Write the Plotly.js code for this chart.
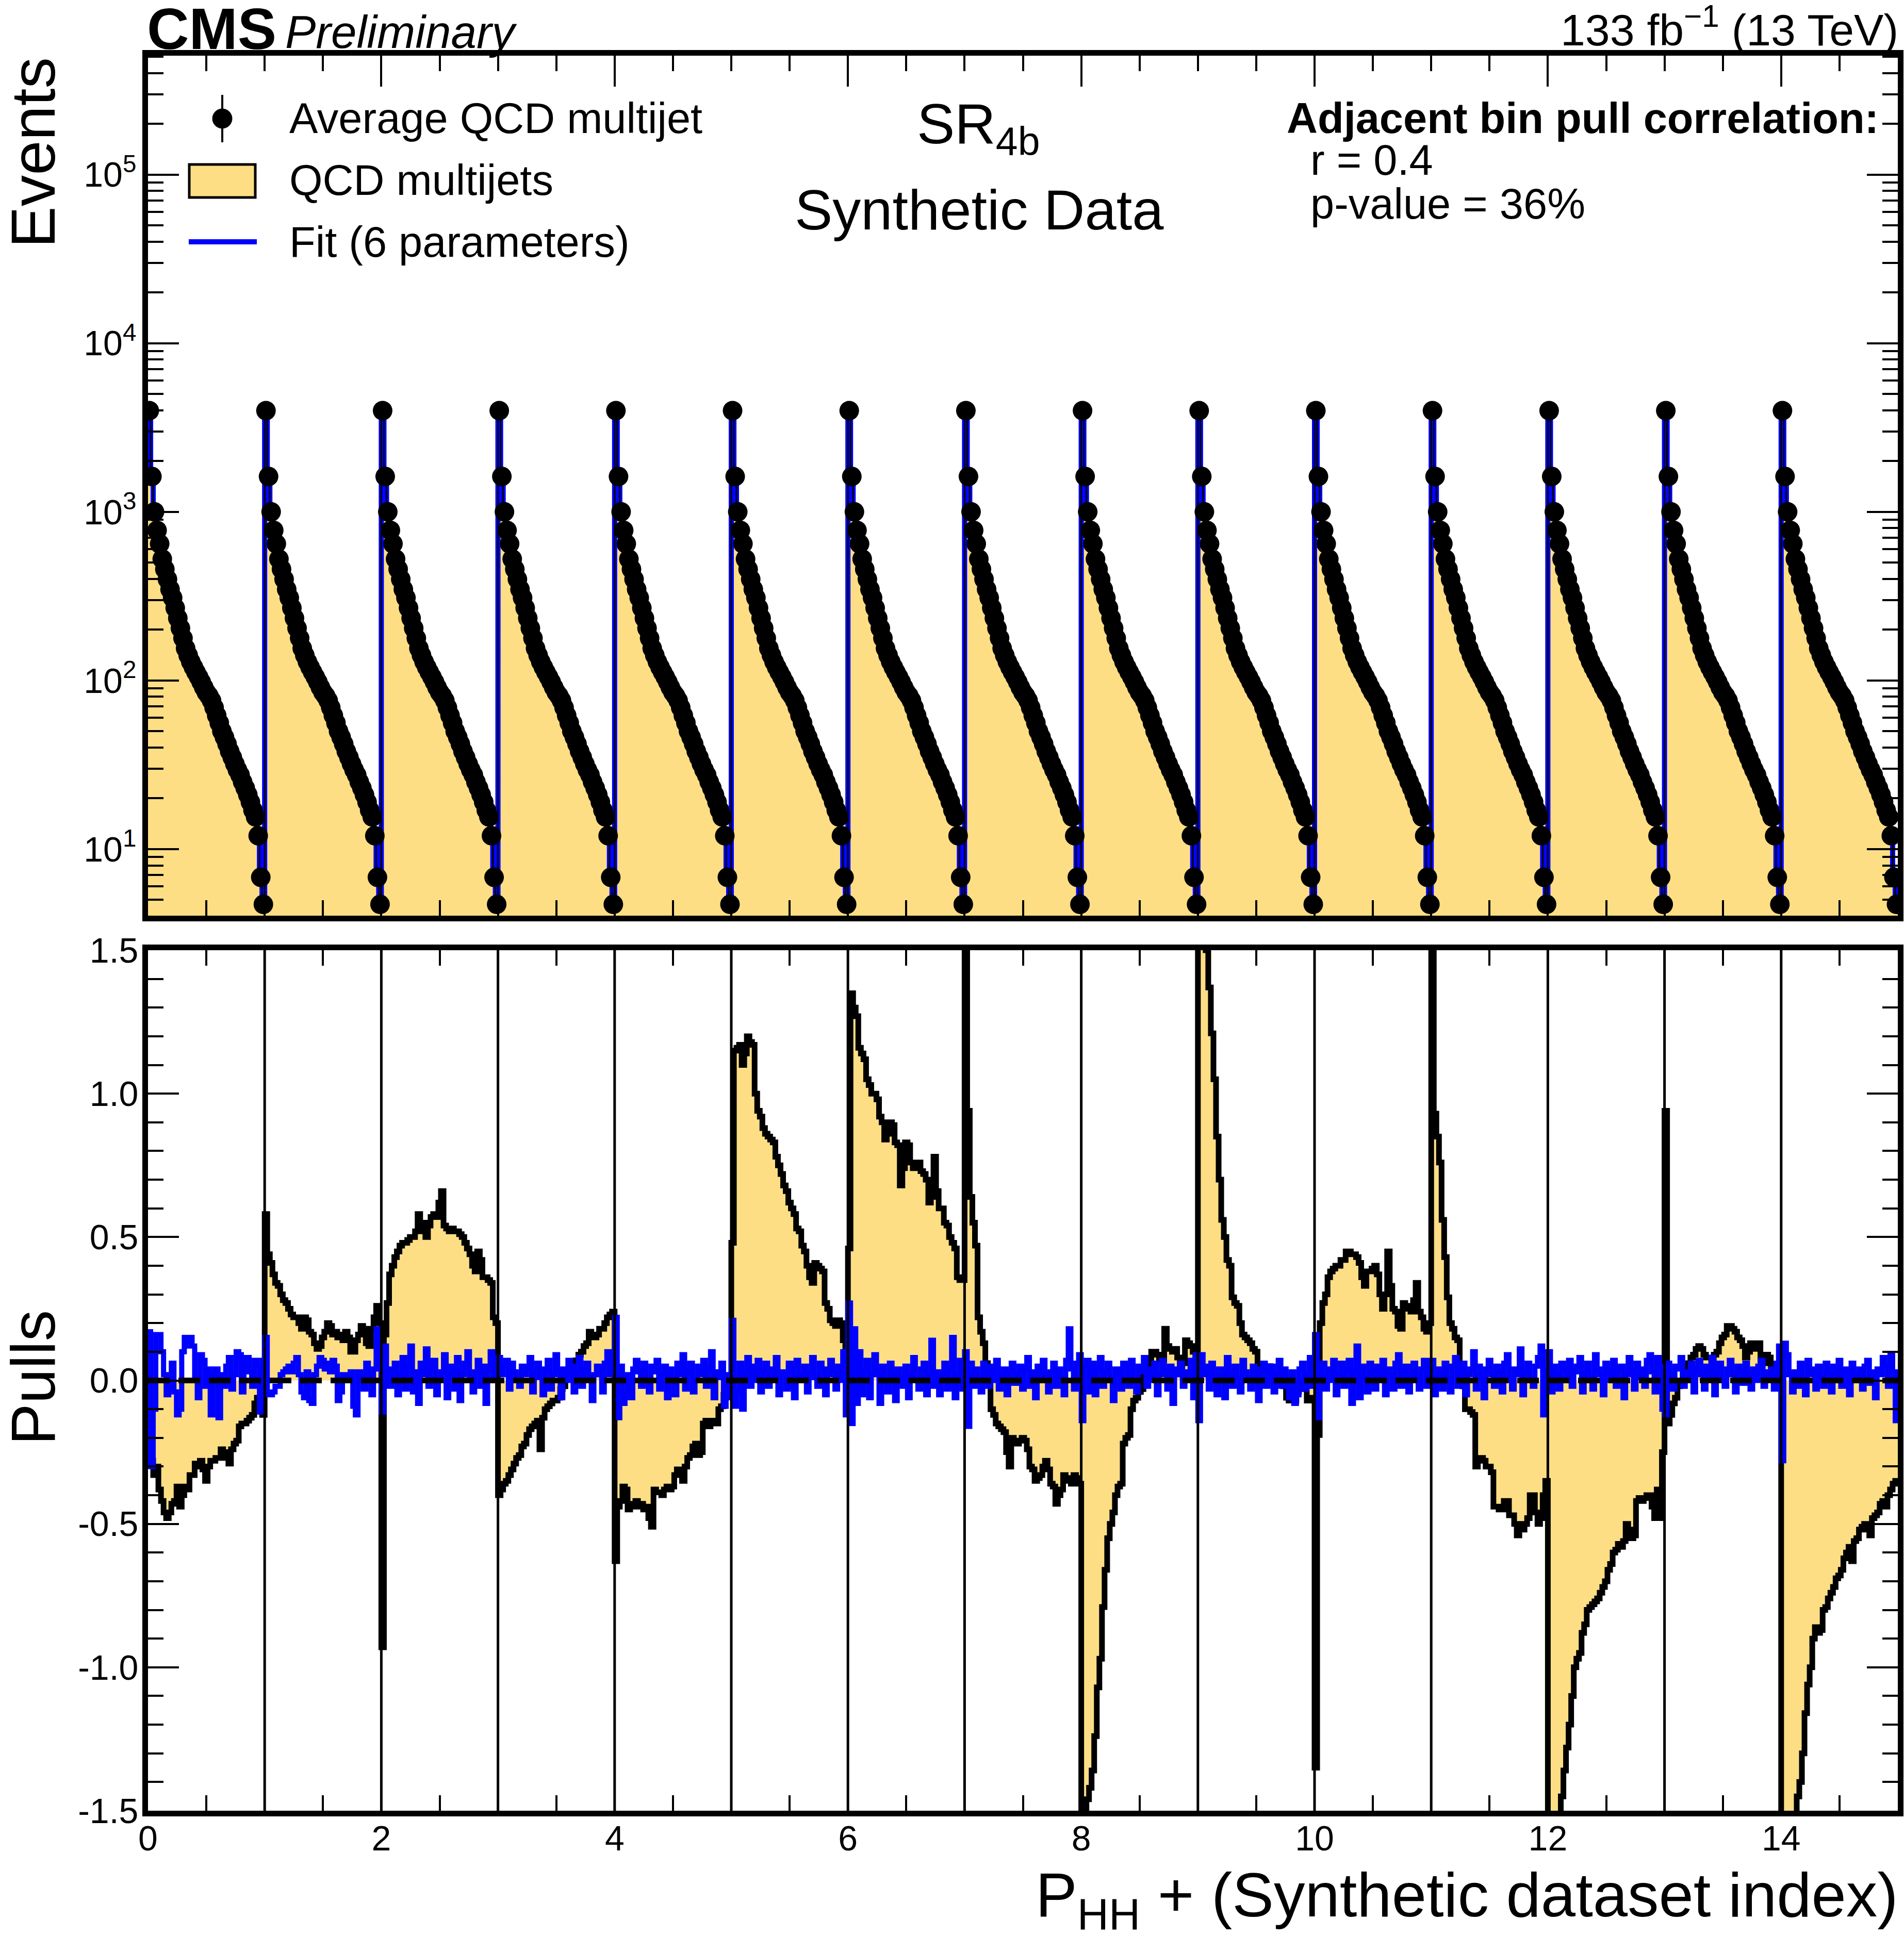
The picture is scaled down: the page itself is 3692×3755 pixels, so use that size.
<!DOCTYPE html>
<html>
<head>
<meta charset="utf-8">
<script src="https://cdn.plot.ly/plotly-3.0.1.min.js"></script>
<style>html,body{margin:0;padding:0;background:#fff;}</style>
</head>
<body>
<div id="chart" style="width:3692px;height:3755px;"></div>
<script>
// ---------------- DATA ----------------
const nSets = 15;          // synthetic datasets
const nBins = 45;          // P_HH bins per dataset
// Average QCD multijet prediction per P_HH bin (same in every dataset)
const avgQCD = [3980,1620,1000,776,646,525,457,398,347,309,
                269,234,204,178,155,141,129,120,112,105,
                98,91,85,81,76,69,62,56,50,46,
                42,38,35,32,29.5,27.5,25,23,21,19,
                17,15.5,12,6.8,4.7];
// Pulls of the QCD multijet histogram, one array per synthetic dataset
const qcdPull01 = [-0.22,-0.28,-0.33,-0.30,-0.38,-0.42,-0.46,-0.48,-0.46,-0.43,-0.42,-0.37,-0.44,-0.40,-0.37,-0.38,-0.33,-0.33,-0.29,-0.30,-0.28,-0.31,-0.35,-0.30,-0.28,-0.28,-0.27,-0.27,-0.24,-0.25,-0.27,-0.29,-0.24,-0.22,-0.21,-0.16,-0.15,-0.15,-0.14,-0.13,-0.12,-0.08,-0.06,-0.10,-0.12];
const qcdPull02 = [0.58,0.44,0.41,0.37,0.34,0.33,0.30,0.28,0.27,0.25,0.23,0.22,0.22,0.20,0.18,0.22,0.21,0.17,0.16,0.13,0.11,0.12,0.15,0.17,0.20,0.19,0.16,0.17,0.15,0.16,0.14,0.17,0.15,0.10,0.10,0.14,0.16,0.19,0.18,0.13,0.12,0.18,0.22,0.26,0.20];
const qcdPull03 = [-0.93,0.16,0.27,0.37,0.40,0.43,0.45,0.47,0.48,0.48,0.49,0.50,0.50,0.52,0.58,0.52,0.55,0.50,0.54,0.57,0.58,0.57,0.62,0.66,0.54,0.53,0.52,0.53,0.52,0.52,0.51,0.50,0.48,0.46,0.44,0.40,0.38,0.45,0.42,0.36,0.36,0.35,0.34,0.22,0.20];
const qcdPull04 = [-0.40,-0.38,-0.36,-0.35,-0.33,-0.31,-0.29,-0.27,-0.26,-0.23,-0.22,-0.19,-0.17,-0.16,-0.15,-0.14,-0.24,-0.13,-0.10,-0.09,-0.08,-0.07,-0.07,-0.06,-0.03,-0.02,0.01,0.02,0.04,0.05,0.07,0.09,0.10,0.12,0.13,0.17,0.16,0.15,0.16,0.18,0.18,0.20,0.22,0.23,0.24];
const qcdPull05 = [-0.63,-0.44,-0.42,-0.37,-0.38,-0.45,-0.44,-0.43,-0.42,-0.44,-0.43,-0.45,-0.44,-0.48,-0.51,-0.38,-0.39,-0.39,-0.40,-0.38,-0.37,-0.38,-0.37,-0.33,-0.31,-0.32,-0.35,-0.30,-0.27,-0.26,-0.23,-0.22,-0.26,-0.25,-0.15,-0.14,-0.16,-0.15,-0.14,-0.15,-0.10,-0.09,-0.05,-0.04,-0.03];
const qcdPull06 = [0.48,1.15,1.16,1.17,1.10,1.14,1.20,1.18,1.17,1.00,0.94,0.92,0.88,0.86,0.85,0.84,0.83,0.78,0.75,0.72,0.68,0.66,0.62,0.60,0.58,0.53,0.52,0.47,0.45,0.40,0.36,0.34,0.41,0.40,0.39,0.38,0.27,0.25,0.21,0.20,0.19,0.21,0.20,0.14,0.10];
const qcdPull07 = [0.46,1.35,1.30,1.27,1.16,1.14,1.12,1.05,1.03,1.00,1.00,0.98,0.92,0.90,0.84,0.86,0.90,0.89,0.83,0.82,0.68,0.74,0.83,0.82,0.76,0.74,0.75,0.76,0.73,0.72,0.70,0.62,0.64,0.78,0.66,0.60,0.60,0.55,0.54,0.50,0.48,0.46,0.36,0.35,0.35];
const qcdPull08 = [2.0,0.94,0.64,0.55,0.47,0.22,0.17,0.13,0.06,0.00,-0.10,-0.12,-0.15,-0.16,-0.17,-0.18,-0.25,-0.30,-0.20,-0.21,-0.22,-0.21,-0.20,-0.21,-0.24,-0.30,-0.31,-0.35,-0.34,-0.33,-0.30,-0.28,-0.31,-0.36,-0.37,-0.43,-0.40,-0.38,-0.33,-0.34,-0.35,-0.36,-0.33,-0.34,-0.36];
const qcdPull09 = [-2.0,-1.7,-1.46,-1.42,-1.36,-1.24,-1.07,-0.97,-0.79,-0.66,-0.55,-0.50,-0.46,-0.40,-0.37,-0.36,-0.22,-0.20,-0.19,-0.10,-0.07,-0.06,-0.04,-0.03,0.04,0.05,0.06,0.10,0.10,0.09,0.07,0.07,0.18,0.12,0.11,0.10,0.11,0.08,0.05,0.06,0.14,0.13,0.12,0.10,0.06];
const qcdPull10 = [2.0,1.7,1.6,1.5,1.37,1.21,1.05,0.85,0.70,0.56,0.50,0.42,0.40,0.29,0.27,0.26,0.20,0.16,0.15,0.14,0.13,0.11,0.10,0.05,0.04,0.03,0.05,0.05,0.02,0.01,0.00,0.01,0.00,-0.02,-0.06,-0.07,-0.07,-0.07,-0.04,-0.01,-0.02,-0.03,-0.07,-0.07,-0.06];
const qcdPull11 = [-1.35,-0.19,0.20,0.27,0.30,0.36,0.38,0.39,0.40,0.40,0.42,0.42,0.45,0.45,0.44,0.44,0.43,0.41,0.36,0.33,0.38,0.38,0.39,0.40,0.37,0.30,0.25,0.30,0.45,0.33,0.25,0.24,0.19,0.18,0.27,0.26,0.25,0.24,0.28,0.34,0.24,0.22,0.18,0.17,0.20];
const qcdPull12 = [2.0,0.93,0.85,0.76,0.56,0.43,0.29,0.20,0.18,0.15,0.14,0.02,-0.02,-0.10,-0.10,-0.11,-0.12,-0.30,-0.28,-0.27,-0.28,-0.30,-0.30,-0.32,-0.44,-0.44,-0.45,-0.45,-0.42,-0.42,-0.47,-0.47,-0.50,-0.54,-0.50,-0.52,-0.50,-0.48,-0.40,-0.40,-0.46,-0.50,-0.48,-0.40,-0.35];
const qcdPull13 = [-2.0,-1.9,-1.8,-1.6,-1.52,-1.45,-1.36,-1.28,-1.20,-1.10,-1.00,-0.97,-0.95,-0.88,-0.85,-0.80,-0.79,-0.78,-0.77,-0.76,-0.74,-0.72,-0.70,-0.66,-0.64,-0.60,-0.59,-0.57,-0.58,-0.56,-0.50,-0.52,-0.55,-0.54,-0.42,-0.41,-0.42,-0.41,-0.40,-0.40,-0.44,-0.48,-0.38,-0.48,-0.25];
const qcdPull14 = [0.94,-0.15,-0.12,-0.08,-0.06,-0.02,0.00,0.02,0.05,0.06,0.08,0.09,0.11,0.12,0.11,0.09,0.08,0.08,0.07,0.09,0.10,0.13,0.15,0.16,0.19,0.19,0.18,0.17,0.15,0.14,0.12,0.08,0.10,0.13,0.12,0.11,0.13,0.07,0.06,0.09,0.08,0.05,0.04,0.02,0.01];
const qcdPull15 = [-2.0,-1.9,-1.8,-1.7,-1.6,-1.52,-1.45,-1.40,-1.30,-1.16,-1.06,-1.00,-0.90,-0.86,-0.88,-0.87,-0.80,-0.79,-0.76,-0.74,-0.72,-0.69,-0.68,-0.66,-0.62,-0.60,-0.58,-0.63,-0.56,-0.55,-0.52,-0.51,-0.50,-0.52,-0.54,-0.48,-0.47,-0.46,-0.43,-0.42,-0.44,-0.40,-0.38,-0.36,-0.35];
// Pulls of the 6-parameter fit, one array per synthetic dataset
const fitPull01 = [0.17,-0.30,-0.10,0.16,0.16,0.10,0.02,-0.05,-0.03,0.06,-0.04,-0.12,-0.10,0.10,0.15,0.12,0.15,0.12,0.00,-0.06,0.09,0.07,-0.02,0.04,-0.12,0.02,0.04,-0.13,0.02,-0.02,0.05,0.08,-0.03,0.02,0.10,0.09,-0.04,0.06,0.08,0.03,-0.02,0.07,0.05,-0.11,0.07];
const fitPull02 = [0.15,-0.05,-0.05,-0.04,-0.02,-0.02,0.02,0.03,0.04,0.05,0.03,0.06,0.08,0.02,-0.04,-0.06,0.03,-0.07,-0.08,0.02,0.05,0.08,0.07,0.04,0.06,0.03,0.07,0.05,-0.07,-0.04,0.02,0.00,0.02,0.03,-0.09,-0.12,0.03,0.01,-0.03,0.06,0.02,-0.05,0.04,0.18,0.10];
const fitPull03 = [-0.11,0.12,0.04,-0.02,0.03,0.06,-0.05,0.02,0.08,-0.03,0.05,0.12,-0.04,0.03,-0.08,0.06,0.02,0.11,-0.02,0.04,0.07,-0.05,0.00,0.03,0.09,-0.06,0.02,0.05,-0.03,0.08,-0.07,0.02,0.06,0.10,0.01,-0.04,0.03,0.07,-0.02,0.05,-0.08,0.04,0.10,0.00,0.06];
const fitPull04 = [0.08,0.02,0.05,0.07,-0.03,0.06,0.03,0.00,-0.02,0.05,0.02,0.04,0.08,-0.04,0.03,0.06,0.01,-0.05,0.04,0.07,-0.03,0.02,0.09,0.03,-0.06,0.04,0.00,0.07,0.05,-0.04,0.03,0.08,-0.02,0.04,0.06,0.01,-0.07,0.02,0.05,0.03,-0.04,0.06,0.10,0.02,0.05];
const fitPull05 = [0.22,-0.13,0.05,-0.08,-0.05,0.02,-0.06,0.04,0.07,0.03,-0.02,0.06,0.00,-0.04,0.05,0.03,0.07,-0.03,0.02,0.05,-0.06,0.04,0.01,-0.05,0.06,0.02,0.09,-0.03,0.03,0.06,-0.04,0.00,0.05,0.02,0.07,-0.02,0.04,0.10,-0.06,0.03,0.01,0.06,-0.09,0.02,-0.06];
const fitPull06 = [0.21,-0.09,-0.04,0.06,-0.10,0.03,0.08,-0.02,0.05,0.00,0.07,-0.04,0.03,0.06,-0.02,0.04,0.01,0.08,-0.05,0.03,0.02,-0.03,0.06,0.04,-0.06,0.07,0.02,0.00,0.05,-0.04,0.03,0.08,0.01,-0.02,0.06,0.04,-0.05,0.02,0.07,0.03,-0.03,0.05,0.00,0.10,-0.12];
const fitPull07 = [0.27,-0.15,0.18,-0.08,0.10,-0.05,0.04,0.07,-0.06,0.02,0.09,0.03,-0.08,0.05,0.00,-0.04,0.06,0.02,-0.07,0.04,0.01,-0.02,0.05,-0.06,0.02,0.08,0.00,-0.03,0.04,0.06,-0.05,0.02,0.14,-0.02,0.03,-0.05,0.02,0.06,-0.03,0.04,0.15,-0.06,0.02,0.07,-0.03];
const fitPull08 = [0.10,-0.16,0.06,-0.02,0.04,0.01,-0.04,0.06,0.03,-0.02,0.05,0.00,0.07,-0.03,0.02,0.04,-0.05,0.03,0.06,-0.01,0.02,0.05,-0.03,0.04,0.08,-0.02,0.03,-0.06,0.05,0.01,0.07,0.02,-0.04,0.03,0.06,-0.02,0.04,0.01,-0.05,0.07,0.18,0.04,-0.03,0.06,0.09];
const fitPull09 = [-0.14,0.05,0.07,-0.04,0.06,-0.05,0.04,0.08,-0.02,0.03,0.06,0.00,-0.07,0.04,0.02,-0.03,0.06,0.05,-0.02,0.07,0.01,-0.04,0.05,0.03,0.08,-0.02,0.04,0.00,0.06,-0.05,0.02,0.07,0.03,-0.03,0.05,-0.08,0.04,0.02,0.06,-0.02,0.03,0.00,0.07,-0.06,0.09];
const fitPull10 = [-0.14,0.09,0.02,0.05,-0.03,0.06,0.00,-0.05,0.04,0.03,-0.06,0.08,0.02,-0.02,0.05,0.01,-0.04,0.07,0.03,0.00,-0.03,0.05,0.02,-0.07,0.04,0.06,-0.02,0.03,0.05,-0.04,0.02,0.07,-0.02,0.04,0.00,-0.06,0.03,-0.08,-0.05,0.04,0.06,-0.03,0.02,0.08,-0.02];
const fitPull11 = [0.16,-0.13,-0.02,0.06,-0.03,0.04,0.00,0.07,-0.05,0.02,0.06,-0.02,0.04,0.07,-0.08,0.03,0.12,-0.06,0.05,0.01,-0.04,0.06,0.03,-0.03,0.05,0.00,0.07,-0.05,0.04,0.02,-0.03,0.06,0.09,-0.02,0.03,0.05,-0.04,0.02,0.06,0.01,-0.03,0.04,0.07,-0.02,0.05];
const fitPull12 = [0.07,-0.05,0.04,0.02,-0.03,0.06,0.00,-0.04,0.05,0.08,-0.02,0.03,0.06,-0.05,0.02,0.04,0.10,-0.03,0.05,0.01,-0.06,0.04,0.07,0.02,-0.02,0.05,0.03,-0.04,0.06,0.09,0.00,-0.03,0.04,0.02,0.11,-0.05,0.03,0.06,0.00,-0.02,0.05,0.08,0.12,-0.12,0.04];
const fitPull13 = [0.10,-0.04,0.05,0.02,-0.03,0.06,0.04,0.00,0.07,-0.02,0.03,0.05,0.08,-0.04,0.02,0.06,0.01,-0.03,0.09,0.04,0.02,-0.05,0.06,0.03,0.00,0.07,-0.02,0.04,0.05,-0.06,0.02,0.08,0.03,-0.03,0.06,0.01,0.04,-0.02,0.07,0.09,0.03,-0.04,0.08,0.05,-0.10];
const fitPull14 = [-0.12,0.06,0.02,-0.03,0.05,0.04,0.08,-0.02,0.03,0.00,0.06,-0.04,0.04,0.07,0.02,-0.03,0.05,0.01,0.08,-0.05,0.03,0.06,0.00,-0.02,0.04,0.07,0.02,-0.04,0.05,0.03,-0.01,0.06,0.02,-0.03,0.04,0.00,0.05,0.07,-0.02,0.03,0.01,0.04,-0.03,0.06,0.12];
const fitPull15 = [-0.28,0.13,0.09,0.02,-0.04,0.03,-0.02,0.06,0.00,-0.05,0.07,0.02,0.04,-0.03,0.05,0.01,-0.02,0.06,0.03,-0.04,0.05,0.00,0.07,-0.02,0.04,0.03,-0.05,0.06,0.02,0.00,0.04,-0.03,0.05,0.07,-0.01,0.03,-0.06,0.04,0.02,0.08,0.05,-0.02,0.09,0.03,-0.14];

const qcdPulls = [qcdPull01,qcdPull02,qcdPull03,qcdPull04,qcdPull05,qcdPull06,qcdPull07,qcdPull08,qcdPull09,qcdPull10,qcdPull11,qcdPull12,qcdPull13,qcdPull14,qcdPull15];
const fitPulls = [fitPull01,fitPull02,fitPull03,fitPull04,fitPull05,fitPull06,fitPull07,fitPull08,fitPull09,fitPull10,fitPull11,fitPull12,fitPull13,fitPull14,fitPull15];
const topTickVals = [10,100,1000,10000,100000];
const topTickText = ['10<sup>1</sup>','10<sup>2</sup>','10<sup>3</sup>','10<sup>4</sup>','10<sup>5</sup>'];
const pullTickVals = [-1.5,-1.0,-0.5,0,0.5,1.0,1.5];
const pullTickText = ['-1.5','-1.0','-0.5','0.0','0.5','1.0','1.5'];
const xTickVals = [0,2,4,6,8,10,12,14];

// ---------------- BUILD ----------------
function stepSeries(perSet){ // histogram outline: x = bin low edges (+ final edge), hv steps
  const x=[], y=[];
  for(let k=0;k<nSets;k++){
    const v = perSet(k);
    for(let i=0;i<nBins;i++){ x.push(k + i/nBins); y.push(v[i]); }
  }
  x.push(nSets); y.push(y[y.length-1]);
  return {x,y};
}
const topStep = stepSeries(()=>avgQCD);
const qcdStep = stepSeries(k=>qcdPulls[k]);
const fitStep = stepSeries(k=>fitPulls[k]);
const dotX=[], dotY=[];
for(let k=0;k<nSets;k++) for(let i=0;i<nBins;i++){ dotX.push(k+(i+0.5)/nBins); dotY.push(avgQCD[i]); }

const YELLOW = '#fdde85', BLUE = '#0000ff';
const traces = [
  {x:topStep.x, y:topStep.y, xaxis:'x', yaxis:'y', mode:'lines', line:{shape:'hv', width:0, color:YELLOW}, fill:'tozeroy', fillcolor:YELLOW, hoverinfo:'skip'},
  {x:topStep.x, y:topStep.y, xaxis:'x', yaxis:'y', mode:'lines', line:{shape:'hv', width:10, color:BLUE}, hoverinfo:'skip'},
  {x:topStep.x, y:topStep.y, xaxis:'x', yaxis:'y', mode:'lines', line:{shape:'hv', width:3, color:'black'}, hoverinfo:'skip'},
  {x:dotX, y:dotY, xaxis:'x', yaxis:'y', mode:'markers', marker:{size:38, color:'black'}, hoverinfo:'skip'},
  {x:qcdStep.x, y:qcdStep.y, xaxis:'x2', yaxis:'y2', mode:'lines', line:{shape:'hv', width:0, color:YELLOW}, fill:'tozeroy', fillcolor:YELLOW, hoverinfo:'skip'},
  {x:qcdStep.x, y:qcdStep.y, xaxis:'x2', yaxis:'y2', mode:'lines', line:{shape:'hv', width:11, color:'black'}, hoverinfo:'skip'},
  {x:fitStep.x, y:fitStep.y, xaxis:'x2', yaxis:'y2', mode:'lines', line:{shape:'hv', width:10, color:BLUE}, hoverinfo:'skip'}
];

// ---------------- LAYOUT ----------------
const W=3692, H=3755, ML=287, MR=12, MT=108, MB=243;
const PW=W-ML-MR, PH=H-MT-MB;
const px = v => (v-ML)/PW;
const py = v => (H-MB-v)/PH;
const FONT = 'Liberation Sans, Arial, Helvetica, sans-serif';

const minorLog=[];
for(let d=0; d<6; d++) for(let m=2;m<10;m++) minorLog.push(m*Math.pow(10,d));

const axBase = {showline:true, linecolor:'black', linewidth:11, mirror:'allticks', ticks:'inside',
  ticklen:60, tickwidth:4, tickcolor:'black', showgrid:false, zeroline:false,
  tickfont:{family:FONT, size:68, color:'black'}};
const minorBase = {ticks:'inside', ticklen:30, tickwidth:4, tickcolor:'black', showgrid:false};

const shapes = [];
for(let k=1;k<nSets;k++){
  shapes.push({type:'line', xref:'x2', yref:'y2 domain', x0:k, x1:k, y0:0, y1:1, line:{color:'black', width:5}, layer:'above'});
}
shapes.push({type:'line', xref:'x2 domain', yref:'y2', x0:0, x1:1, y0:0, y1:0, line:{color:'black', width:11, dash:'42px,17px'}, layer:'above'});
// legend glyphs
shapes.push({type:'line', xref:'paper', yref:'paper', x0:px(431), x1:px(431), y0:py(184), y1:py(276), line:{color:'black', width:4}});
shapes.push({type:'circle', xref:'paper', yref:'paper', x0:px(412), x1:px(450), y0:py(249), y1:py(211), fillcolor:'black', line:{color:'black', width:1}});
shapes.push({type:'rect', xref:'paper', yref:'paper', x0:px(367), x1:px(495), y0:py(383), y1:py(319), fillcolor:YELLOW, line:{color:'black', width:5}});
shapes.push({type:'line', xref:'paper', yref:'paper', x0:px(366), x1:px(498), y0:py(469), y1:py(469), line:{color:BLUE, width:10}});

function ann(text, x, y, size, xanchor, yanchor, extra){
  return Object.assign({text, xref:'paper', yref:'paper', x:px(x), y:py(y), xanchor, yanchor, showarrow:false,
    font:{family:FONT, size, color:'black'}, borderpad:0}, extra||{});
}
const annotations = [
  ann('<b>CMS</b>', 284, 56, 113, 'left', 'middle'),
  ann('<i>Preliminary</i>', 552, 62, 89, 'left', 'middle'),
  ann('133 fb<sup>\u22121</sup> (13 TeV)', 3682, 52, 86, 'right', 'middle'),
  ann('Average QCD multijet', 560, 230, 83, 'left', 'middle'),
  ann('QCD multijets', 560, 350, 83, 'left', 'middle'),
  ann('Fit (6 parameters)', 560, 469, 83, 'left', 'middle'),
  ann('SR<sub>4b</sub>', 1897, 248, 110, 'center', 'middle'),
  ann('Synthetic Data', 1899, 407, 110, 'center', 'middle'),
  ann('<b>Adjacent bin pull correlation:</b>', 2494, 230, 83, 'left', 'middle'),
  ann('r = 0.4', 2540, 311, 83, 'left', 'middle'),
  ann('p-value = 36%', 2540, 395, 83, 'left', 'middle'),
  ann('Events', 64, 110, 121, 'center', 'top', {textangle:-90}),
  ann('Pulls', 64, 2672, 121, 'center', 'middle', {textangle:-90}),
  ann('P<sub>HH</sub> + (Synthetic dataset index)', 3682, 3684, 121, 'right', 'middle')
];

const layout = {
  width:W, height:H, margin:{l:ML, r:MR, t:MT, b:MB, pad:0},
  paper_bgcolor:'white', plot_bgcolor:'white', showlegend:false,
  font:{family:FONT, color:'black'},
  xaxis: Object.assign({}, axBase, {domain:[0,1], anchor:'y', range:[0,nSets], tickmode:'array', tickvals:xTickVals,
          showticklabels:false, minor:Object.assign({}, minorBase, {dtick:0.5, tick0:0})}),
  yaxis: Object.assign({}, axBase, {domain:[(H-MB-1776)/PH, 1], anchor:'x', type:'log', range:[0.605, 5.705],
          tickmode:'array', tickvals:topTickVals, ticktext:topTickText, ticklabelstandoff:-2,
          minor:Object.assign({}, minorBase, {tickmode:'array', tickvals:minorLog})}),
  xaxis2: Object.assign({}, axBase, {domain:[0,1], anchor:'y2', range:[0,nSets], tickmode:'array', tickvals:xTickVals,
          ticktext:xTickVals.map(String), ticklabelstandoff:-16, minor:Object.assign({}, minorBase, {dtick:0.5, tick0:0})}),
  yaxis2: Object.assign({}, axBase, {domain:[0, (H-MB-1843)/PH], anchor:'x2', range:[-1.5,1.5],
          tickmode:'array', tickvals:pullTickVals, ticktext:pullTickText, ticklabelstandoff:-6,
          minor:Object.assign({}, minorBase, {dtick:0.1, tick0:0})}),
  shapes, annotations
};

Plotly.newPlot('chart', traces, layout, {displayModeBar:false, staticPlot:true});
</script>
</body>
</html>
